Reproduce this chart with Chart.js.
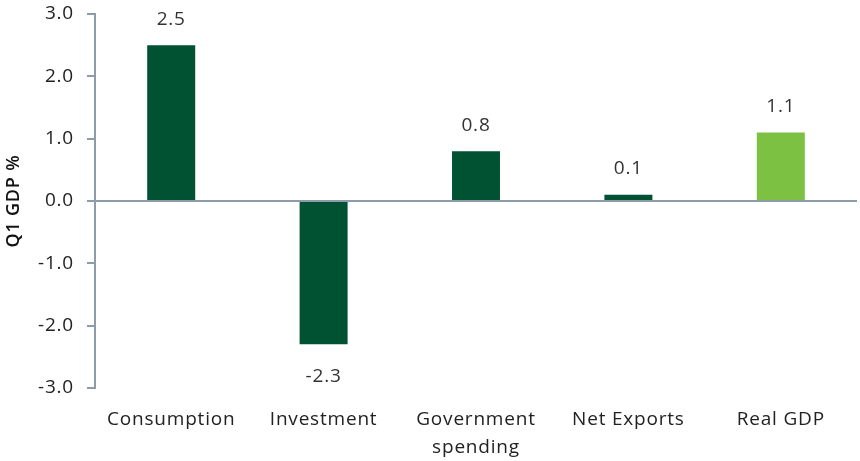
<!DOCTYPE html>
<html>
<head>
<meta charset="utf-8">
<script src="https://cdn.jsdelivr.net/npm/chart.js@4/dist/chart.umd.min.js"></script>
<style>
html,body{margin:0;padding:0;background:#fff;}
#wrap{width:860px;height:461px;position:relative;}
</style>
</head>
<body>
<div id="wrap"><canvas id="c" width="860" height="461"></canvas></div>
<script>
const categories = ['Consumption', 'Investment', ['Government', 'spending'], 'Net Exports', 'Real GDP'];
const values = [2.5, -2.3, 0.8, 0.1, 1.1];
const barColors = ['#005232', '#005232', '#005232', '#005232', '#7DC142'];
const yTicks = [-3, -2, -1, 0, 1, 2, 3];

const FONT = '"Open Sans", Lato, sans-serif';
const AXIS = '#8C9CA8';
const SPACING = '0.8px';

const spacingPlugin = {
  id: 'spacing',
  beforeInit(chart) { chart.ctx.letterSpacing = SPACING; },
  beforeUpdate(chart) { chart.ctx.letterSpacing = SPACING; },
  beforeDraw(chart) { chart.ctx.letterSpacing = SPACING; }
};

const labelPlugin = {
  id: 'barLabels',
  afterDatasetsDraw(chart) {
    const ctx = chart.ctx;
    const meta = chart.getDatasetMeta(0);
    ctx.save();
    ctx.letterSpacing = SPACING;
    ctx.font = '19px ' + FONT;
    ctx.fillStyle = '#333333';
    ctx.textAlign = 'center';
    ctx.textBaseline = 'middle';
    meta.data.forEach((bar, i) => {
      const v = values[i];
      if (v >= 0) {
        ctx.fillText(v.toFixed(1), bar.x, bar.y - 26);
      } else {
        ctx.fillText(v.toFixed(1), bar.x, bar.y + 32);
      }
    });
    ctx.restore();
  }
};

new Chart(document.getElementById('c'), {
  type: 'bar',
  data: {
    labels: categories,
    datasets: [{
      data: values,
      backgroundColor: barColors,
      borderWidth: 0,
      categoryPercentage: 1,
      barPercentage: 0.315
    }]
  },
  options: {
    responsive: false,
    animation: false,
    devicePixelRatio: 1,
    layout: { padding: { top: 14, right: 3, left: 0, bottom: 0 } },
    plugins: { legend: { display: false }, tooltip: { enabled: false } },
    scales: {
      x: {
        grid: { display: false, drawTicks: false },
        border: { display: false },
        ticks: {
          color: '#222222',
          font: { family: FONT, size: 19, lineHeight: 1.45 },
          padding: 18,
          maxRotation: 0,
          autoSkip: false
        },
        afterFit(s) { s.height = 73; s.paddingLeft = 0; s.paddingRight = 0; }
      },
      y: {
        min: -3, max: 3,
        afterBuildTicks(s) { s.ticks = yTicks.map(v => ({ value: v })); },
        grid: {
          color: c => (c.tick && c.tick.value === 0 ? AXIS : 'rgba(0,0,0,0)'),
          lineWidth: 2,
          drawTicks: true,
          tickLength: 8,
          tickColor: AXIS,
          tickWidth: 2
        },
        border: { display: true, color: AXIS, width: 2 },
        ticks: {
          color: '#222222',
          font: { family: FONT, size: 19 },
          padding: 13,
          callback: v => Number(v).toFixed(1)
        },
        title: {
          display: true,
          text: 'Q1 GDP %',
          color: '#111111',
          font: { family: FONT, size: 18, weight: '600' },
          padding: { top: 3, bottom: 4 }
        },
        afterFit(s) { s.width = 95; s.paddingTop = 0; s.paddingBottom = 0; }
      }
    }
  },
  plugins: [spacingPlugin, labelPlugin]
});
</script>
</body>
</html>
